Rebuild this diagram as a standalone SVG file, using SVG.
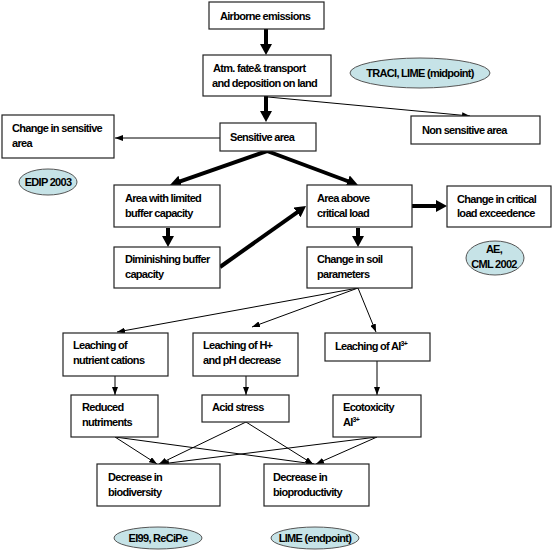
<svg xmlns="http://www.w3.org/2000/svg" width="554" height="555" viewBox="0 0 554 555">
<style>
.box{fill:#fff;stroke:#222;stroke-width:1.2}
.ell{fill:#c6e3e7;stroke:#555;stroke-width:1}
text{font-family:"Liberation Sans",Arial,sans-serif;font-size:11px;font-weight:bold;letter-spacing:-0.7px;fill:#000}
.c{text-anchor:middle}
.thick{stroke:#000;stroke-width:4;fill:none;marker-end:url(#hk)}
.thin{stroke:#000;stroke-width:1;fill:none;marker-end:url(#hn)}
</style>
<defs>
<marker id="hk" viewBox="0 0 11 12" markerWidth="11" markerHeight="12" refX="4" refY="6" orient="auto" markerUnits="userSpaceOnUse"><path d="M0,0 L11,6 L0,12 z" fill="#000"/></marker>
<marker id="hn" viewBox="0 0 8 6" markerWidth="8" markerHeight="6" refX="8" refY="3" orient="auto" markerUnits="userSpaceOnUse"><path d="M0,0 L8,3 L0,6 z" fill="#000"/></marker>
</defs>
<rect width="554" height="555" fill="#fff"/>
<g id="connectors">
<line class="thick" x1="266" y1="29" x2="266" y2="48"/>
<line class="thick" x1="266" y1="96" x2="266" y2="115"/>
<line class="thick" x1="267" y1="151" x2="176.6" y2="182.7"/>
<line class="thick" x1="267" y1="151" x2="351.4" y2="182.5"/>
<line class="thick" x1="168" y1="228" x2="168" y2="240"/>
<line class="thick" x1="358" y1="228" x2="358" y2="240"/>
<line class="thick" x1="220" y1="267" x2="300.3" y2="210.1"/>
<line class="thick" x1="412" y1="206" x2="440" y2="206"/>
<line class="thin" x1="268" y1="97" x2="470" y2="116"/>
<line class="thin" x1="220" y1="138" x2="115" y2="138"/>
<line class="thin" x1="358" y1="288" x2="117" y2="332"/>
<line class="thin" x1="358" y1="288" x2="252" y2="327"/>
<line class="thin" x1="358" y1="288" x2="376" y2="332"/>
<line class="thin" x1="115" y1="376" x2="115" y2="395"/>
<line class="thin" x1="246" y1="376" x2="246" y2="395"/>
<line class="thin" x1="377" y1="361" x2="377" y2="395"/>
<line class="thin" x1="115" y1="437" x2="157" y2="464"/>
<line class="thin" x1="115" y1="437" x2="314" y2="464"/>
<line class="thin" x1="246" y1="422" x2="159" y2="464"/>
<line class="thin" x1="246" y1="422" x2="313" y2="464"/>
<line class="thin" x1="377" y1="437" x2="161" y2="464"/>
<line class="thin" x1="377" y1="437" x2="316" y2="464"/>
</g>
<g id="airborne"><rect class="box" x="209" y="2" width="115" height="27"/><text x="220" y="20">Airborne emissions</text></g>
<g id="atm"><rect class="box" x="203" y="55" width="128" height="41"/><text x="213" y="72">Atm. fate&amp; transport</text><text x="212" y="87">and deposition on land</text></g>
<g id="traci"><ellipse class="ell" cx="420" cy="73" rx="70" ry="15"/><text class="c" x="420" y="77">TRACI, LIME (midpoint)</text></g>
<g id="change-sensitive"><rect class="box" x="2" y="115" width="112" height="43"/><text x="12" y="132">Change in sensitive</text><text x="12" y="147">area</text></g>
<g id="sensitive"><rect class="box" x="220" y="123" width="96" height="28"/><text x="230" y="141">Sensitive area</text></g>
<g id="non-sensitive"><rect class="box" x="411" y="116" width="129" height="28"/><text x="422" y="134">Non sensitive area</text></g>
<g id="edip"><ellipse class="ell" cx="48" cy="182" rx="29" ry="13"/><text class="c" x="48" y="186">EDIP 2003</text></g>
<g id="limited"><rect class="box" x="114" y="185" width="106" height="42"/><text x="125" y="202">Area with limited</text><text x="125" y="217">buffer capacity</text></g>
<g id="above"><rect class="box" x="307" y="185" width="105" height="42"/><text x="317" y="202">Area above</text><text x="317" y="217">critical load</text></g>
<g id="critical"><rect class="box" x="447" y="186" width="104" height="41"/><text x="457" y="203">Change in critical</text><text x="457" y="217">load exceedence</text></g>
<g id="diminishing"><rect class="box" x="114" y="247" width="106" height="41"/><text x="125" y="263">Diminishing buffer</text><text x="125" y="278">capacity</text></g>
<g id="soil"><rect class="box" x="307" y="247" width="105" height="41"/><text x="317" y="263">Change in soil</text><text x="317" y="278">parameters</text></g>
<g id="ae"><ellipse class="ell" cx="495" cy="258" rx="29" ry="17"/><text class="c" x="494" y="253">AE,</text><text class="c" x="494" y="268">CML 2002</text></g>
<g id="leach-nutrient"><rect class="box" x="63" y="333" width="105" height="43"/><text x="73" y="349">Leaching of</text><text x="73" y="364">nutrient cations</text></g>
<g id="leach-h"><rect class="box" x="193" y="333" width="105" height="43"/><text x="203" y="349">Leaching of H+</text><text x="203" y="364">and pH decrease</text></g>
<g id="leach-al"><rect class="box" x="325" y="333" width="105" height="28"/><text x="335" y="350">Leaching of Al<tspan font-size="7" dy="-4">3+</tspan></text></g>
<g id="reduced"><rect class="box" x="71" y="395" width="87" height="42"/><text x="82" y="411">Reduced</text><text x="82" y="426">nutriments</text></g>
<g id="acid"><rect class="box" x="202" y="395" width="87" height="27"/><text x="212" y="411">Acid stress</text></g>
<g id="ecotox"><rect class="box" x="333" y="395" width="88" height="42"/><text x="343" y="411">Ecotoxicity</text><text x="343" y="426">Al<tspan font-size="7" dy="-4">3+</tspan></text></g>
<g id="biodiversity"><rect class="box" x="97" y="464" width="123" height="42"/><text x="108" y="481">Decrease in</text><text x="108" y="496">biodiversity</text></g>
<g id="bioproductivity"><rect class="box" x="264" y="464" width="105" height="42"/><text x="273" y="481">Decrease in</text><text x="273" y="496">bioproductivity</text></g>
<g id="ei99"><ellipse class="ell" cx="158" cy="538" rx="44" ry="11"/><text class="c" x="158" y="542">EI99, ReCiPe</text></g>
<g id="lime"><ellipse class="ell" cx="315" cy="538" rx="44" ry="11"/><text class="c" x="315" y="542">LIME (endpoint)</text></g>
</svg>
